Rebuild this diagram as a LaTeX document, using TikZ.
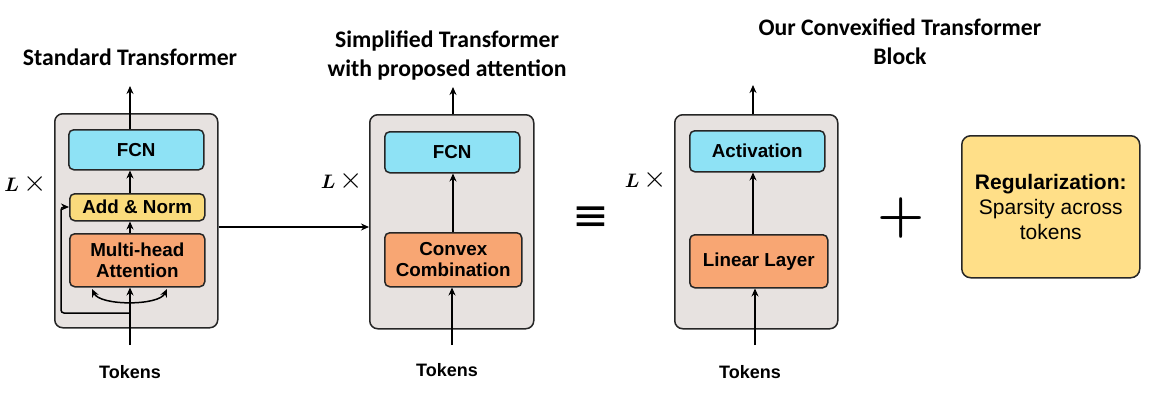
\documentclass[tikz,border=0pt]{standalone}
\usepackage{fix-cm}
\usepackage{amsmath}
\usepackage{fontspec}
\setmainfont{Liberation Sans}
\newfontfamily\titlefont{Carlito}
\newfontfamily\symfont{DejaVu Sans}
\usetikzlibrary{arrows.meta,calc}
\definecolor{blockgray}{HTML}{E7E2E0}
\definecolor{fcncyan}{HTML}{8EE2F5}
\definecolor{normyel}{HTML}{FADB7C}
\definecolor{attorange}{HTML}{F8A673}
\definecolor{regyel}{HTML}{FFDF88}
\newcommand{\Ltimes}{{\fontsize{19.5}{24}\selectfont$\boldsymbol{L}$}\hspace{4pt}{\fontsize{30}{30}\selectfont$\times$}}
\tikzset{
  blockbox/.style={draw=black!85, line width=1.5pt, fill=blockgray, rounded corners=8pt},
  innerbox/.style={draw=black!85, line width=1.5pt, rounded corners=5pt, font=\bfseries\fontsize{18.8}{21.5}\selectfont, align=center, inner sep=0pt},
  conn/.style={line width=1.5pt, -{Stealth[length=8pt,width=7pt]}},
  ttl/.style={font=\titlefont\bfseries\fontsize{23.7}{29}\selectfont, align=center},
  tok/.style={font=\bfseries\fontsize{18}{21}\selectfont},
  lx/.style={inner sep=0pt}
}
\begin{document}
\begin{tikzpicture}[x=1pt,y=-1pt]
\useasboundingbox (0,0) rectangle (1161,402);
% ---------- Block 1 ----------
\node[blockbox, minimum width=163pt, minimum height=214pt, anchor=north west] (b1) at (54,113) {};
\node[innerbox, fill=fcncyan, minimum width=135pt, minimum height=40pt, anchor=north west] (fcn1) at (68,129) {FCN};
\node[innerbox, fill=normyel, minimum width=135pt, minimum height=27pt, anchor=north west] (an1) at (69,193) {Add \& Norm};
\node[innerbox, fill=attorange, minimum width=135pt, minimum height=53pt, anchor=north west] (mha1) at (69,233) {Multi-head\\Attention};
\node[ttl] (t1) at (130,57) {Standard Transformer};
\node[tok] (tk1) at (130,372) {Tokens};
\node[lx] (l1) at (25.5,184) {\Ltimes};
\coordinate (o1) at (130,86);
\coordinate (i1) at (130,345);
\coordinate (r1) at (130,313);
\coordinate (rc1) at (61,313);
\coordinate (ra1) at (61,207);
\coordinate (cl1) at (92,289);
\coordinate (cr1) at (167,289);
\draw[conn] (fcn1.north -| o1) -- (o1);
\draw[conn] (an1.north -| o1) -- (fcn1.south -| o1);
\draw[conn] (mha1.north -| o1) -- (an1.south -| o1);
\draw[conn] (i1) -- (mha1.south -| i1);
\draw[conn, rounded corners=3pt] (r1) -- (rc1) -- (ra1) -- (an1.west |- ra1);
\draw[line width=1.5pt, {Stealth[length=8pt,width=7pt]}-{Stealth[length=8pt,width=7pt]}] (cl1) .. controls (100,306) and (159,306) .. (cr1);
% ---------- Block 2 ----------
\node[blockbox, minimum width=164pt, minimum height=214pt, anchor=north west] (b2) at (369,114) {};
\node[innerbox, fill=fcncyan, minimum width=135pt, minimum height=41pt, anchor=north west] (fcn2) at (384,131) {FCN};
\node[innerbox, fill=attorange, minimum width=137pt, minimum height=54pt, anchor=north west] (cc2) at (384,232) {Convex\\Combination};
\node[ttl] (t2) at (447,56) {Simplified Transformer\\with proposed attention};
\node[tok] (tk2) at (447,370) {Tokens};
\node[lx] (l2) at (342,181) {\Ltimes};
\coordinate (o2) at (453,87);
\coordinate (i2) at (452,345);
\draw[conn] (b2.north -| o2) -- (o2);
\draw[conn] (cc2.north -| o2) -- (fcn2.south -| o2);
\draw[conn] (i2) -- (cc2.south -| i2);
\draw[conn] (b1.east |- 0,227) -- (b2.west |- 0,227);
% equivalence
\node[font=\symfont\fontsize{44}{44}\selectfont, inner sep=0pt] (eq) at (591,219) {≡};
% ---------- Block 3 ----------
\node[blockbox, minimum width=163pt, minimum height=214pt, anchor=north west] (b3) at (674,114) {};
\node[innerbox, fill=fcncyan, minimum width=135pt, minimum height=41pt, anchor=north west] (act3) at (689,130) {Activation};
\node[innerbox, fill=attorange, minimum width=138pt, minimum height=53pt, anchor=north west] (lin3) at (689,234) {Linear Layer};
\node[ttl] (t3) at (900,42) {Our Convexified Transformer\\Block};
\node[tok] (tk3) at (750,372) {Tokens};
\node[lx] (l3) at (646,180) {\Ltimes};
\coordinate (o3) at (753,85);
\coordinate (i3) at (755,345);
\draw[conn] (b3.north -| o3) -- (o3);
\draw[conn] (lin3.north -| o3) -- (act3.south -| o3);
\draw[conn] (i3) -- (lin3.south -| i3);
% plus
\node[font=\fontsize{54}{54}\selectfont, inner sep=0pt] (pl) at (901,218) {$\boldsymbol{+}$};
% regularization
\node[draw=black!85, line width=1.5pt, fill=regyel, rounded corners=9pt, minimum width=178pt, minimum height=142pt, anchor=north west, align=center, font=\fontsize{21}{25}\selectfont] (reg) at (961,135) {\textbf{Regularization:}\\Sparsity across\\tokens};
\end{tikzpicture}
\end{document}
